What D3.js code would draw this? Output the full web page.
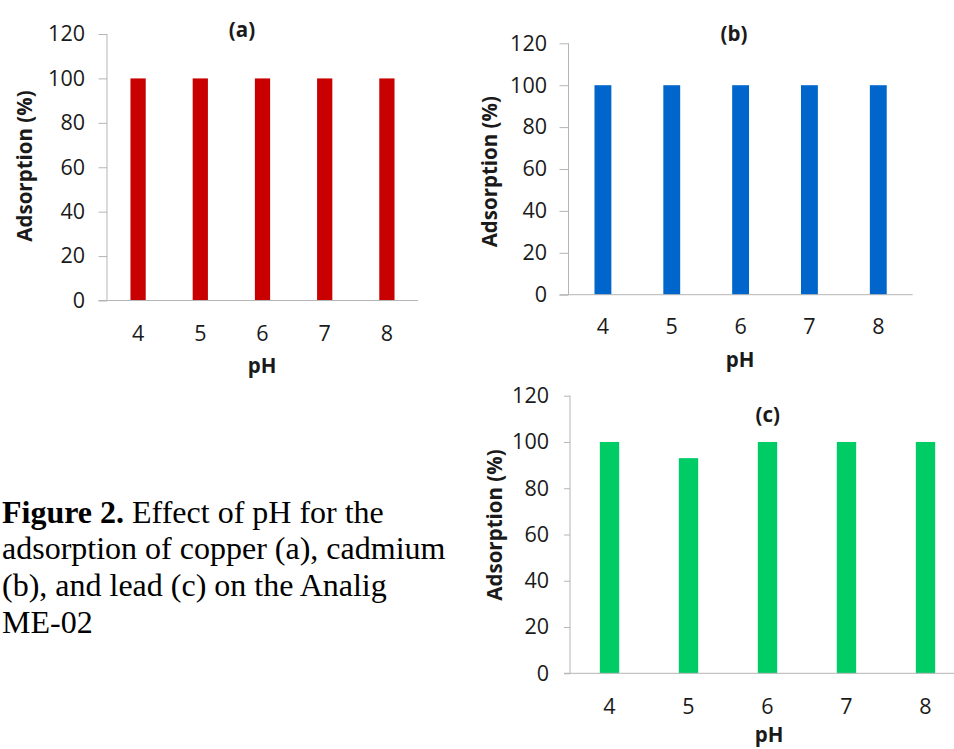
<!DOCTYPE html>
<html>
<head>
<meta charset="utf-8">
<script src="https://cdn.jsdelivr.net/npm/d3@7/dist/d3.min.js"></script>
<style>
  html, body { margin: 0; padding: 0; background: #ffffff; }
  svg { display: block; }
</style>
</head>
<body>
<script>
// ---- data ----
const phLabels = ["4", "5", "6", "7", "8"];
const copper = [100, 100, 100, 100, 100];
const cadmium = [100, 100, 100, 100, 100];
const lead = [100, 93, 100, 100, 100];
const yTicks = [0, 20, 40, 60, 80, 100, 120];
const panelTitles = ["(a)", "(b)", "(c)"];
const colors = ["#c80000", "#0066cc", "#00cc66"];
const xTitle = "pH";
const yTitle = "Adsorption (%)";
const captionBold = "Figure 2.";
const captionLines = [" Effect of pH for the", "adsorption of copper (a), cadmium", "(b), and lead (c) on the Analig", "ME-02"];

const W = 954, H = 749;
const svg = d3.select("body").append("svg").attr("width", W).attr("height", H);
svg.append("rect").attr("width", W).attr("height", H).attr("fill", "#fff");

const axisColor = "#b5b5b5";
const textColor = "#1a1a1a";
const sans = "'Open Sans', sans-serif";
const tickFont = "21.5px";
const labFont = "20.5px";

const panels = [
  { values: copper, title: panelTitles[0], color: colors[0],
    x0: 107, x1: 418, y0: 300.5, y1: 34, tick: 8.5, labelRight: 85,
    xLabBase: 340.5, pHx: 262, pHBase: 372.5, titleX: 242, titleY: 29, yTitX: 24, yTitY: 166 },
  { values: cadmium, title: panelTitles[1], color: colors[1],
    x0: 568.5, x1: 912.7, y0: 294.7, y1: 43.3, tick: 9, labelRight: 547,
    xLabBase: 334, pHx: 740, pHBase: 366.5, titleX: 734, titleY: 33.3, yTitX: 489, yTitY: 171.7 },
  { values: lead, title: panelTitles[2], color: colors[2],
    x0: 570, x1: 965, y0: 673.3, y1: 395.7, tick: 6, labelRight: 549,
    xLabBase: 714, pHx: 769, pHBase: 742, titleX: 767.7, titleY: 414, yTitX: 494, yTitY: 525 }
];

panels.forEach(p => {
  const g = svg.append("g");
  const x = d3.scaleBand().domain(phLabels).range([p.x0, p.x1])
    .paddingInner(0.755).paddingOuter(0.3775);
  const y = d3.scaleLinear().domain([0, 120]).range([p.y0, p.y1]);

  // bars
  g.selectAll("rect.bar").data(p.values).join("rect")
    .attr("class", "bar")
    .attr("x", (d, i) => x(phLabels[i]))
    .attr("width", x.bandwidth())
    .attr("y", d => y(d))
    .attr("height", d => y(0) - y(d))
    .attr("fill", p.color);

  // y axis
  const yAxis = d3.axisLeft(y).tickValues(yTicks).tickSize(p.tick).tickPadding(p.x0 - p.tick - p.labelRight);
  const ya = g.append("g").attr("transform", `translate(${p.x0},0)`).call(yAxis);
  ya.select(".domain").attr("stroke", axisColor).attr("d", `M0,${p.y1}V${p.y0}`);
  ya.selectAll(".tick line").attr("stroke", axisColor);
  ya.selectAll(".tick text").attr("fill", textColor).style("font-family", sans).style("font-size", tickFont);

  // x axis
  const xAxis = d3.axisBottom(x).tickSize(0).tickPadding(0);
  const xa = g.append("g").attr("transform", `translate(0,${p.y0})`).call(xAxis);
  xa.select(".domain").attr("stroke", axisColor).attr("d", `M${p.x0 - p.tick},0H${p.x1}`);
  xa.selectAll(".tick text").attr("fill", textColor).style("font-family", sans).style("font-size", tickFont)
    .attr("dy", null).attr("y", p.xLabBase - p.y0);

  // titles
  g.append("text").attr("x", p.pHx).attr("y", p.pHBase).attr("text-anchor", "middle")
    .style("font-family", sans).style("font-size", labFont).style("font-weight", "bold")
    .attr("fill", textColor).text(xTitle);
  g.append("text").attr("x", p.titleX).attr("y", p.titleY).attr("text-anchor", "middle")
    .attr("dominant-baseline", "central")
    .style("font-family", sans).style("font-size", labFont).style("font-weight", "bold")
    .attr("fill", textColor).text(p.title);
  g.append("text").attr("transform", `translate(${p.yTitX},${p.yTitY}) rotate(-90)`)
    .attr("text-anchor", "middle").attr("dominant-baseline", "central")
    .style("font-family", sans).style("font-size", labFont).style("font-weight", "bold")
    .attr("fill", textColor).text(yTitle);
});

// caption
const serif = "'Liberation Serif', 'Times New Roman', serif";
const cap = svg.append("text").attr("x", 2).attr("y", 522.7)
  .style("font-family", serif).style("font-size", "32px").attr("fill", "#000");
cap.append("tspan").style("font-weight", "bold").text(captionBold);
cap.append("tspan").text(captionLines[0]);
captionLines.slice(1).forEach((t, i) => {
  svg.append("text").attr("x", 2).attr("y", 522.7 + 36.7 * (i + 1))
    .style("font-family", serif).style("font-size", "32px").attr("fill", "#000").text(t);
});
</script>
</body>
</html>
